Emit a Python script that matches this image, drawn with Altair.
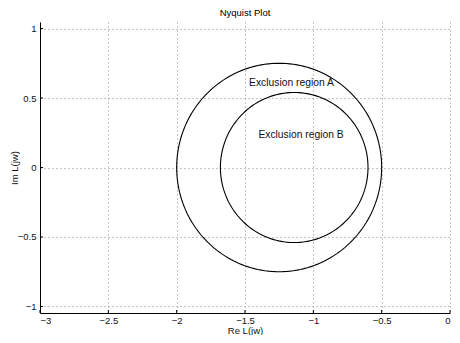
import altair as alt
import pandas as pd

# Circles (exclusion regions): centre and radius
circle_names = ["A", "B"]
circle_cx = [-1.25, -1.14]
circle_cy = [0.0, 0.0]
circle_r = [0.75, 0.54]

# Text labels
label_text = ["Exclusion region A", "Exclusion region B"]
label_x = [-1.16, -1.09]
label_y = [0.607, 0.233]

# Axes
x_ticks = [-3, -2.5, -2, -1.5, -1, -0.5, 0]
y_ticks = [-1, -0.5, 0, 0.5, 1]
x_domain = [-3, 0]
y_domain = [-1.047, 1.047]

circles = pd.DataFrame({"name": circle_names, "cx": circle_cx, "cy": circle_cy, "r": circle_r})
labels = pd.DataFrame({"text": label_text, "x": label_x, "y": label_y})
xt = pd.DataFrame({"v": x_ticks})
yt = pd.DataFrame({"v": y_ticks})

FONT = "Liberation Sans"
W, H = 410, 291

xscale = alt.Scale(domain=x_domain, nice=False, zero=False)
yscale = alt.Scale(domain=y_domain, nice=False, zero=False)

xaxis = alt.Axis(values=x_ticks, format="~g", title="Re L(jw)", grid=True,
                 gridDash=[1, 3], gridColor="#8a8a8a", gridWidth=1,
                 domainColor="black", ticks=False,
                 labelPadding=2, titleY=20.5, titleBaseline="alphabetic")
yaxis = alt.Axis(values=y_ticks, format="~g", title="Im L(jw)", grid=True,
                 gridDash=[1, 3], gridColor="#8a8a8a", gridWidth=1,
                 domainColor="black", ticks=False,
                 labelPadding=4, titleX=-26, titleY=H / 2, titleBaseline="middle",
                 titleAlign="center", titleAngle=270)

circle_layer = alt.Chart(circles).transform_calculate(
    deg="sequence(0, 362, 2)"
).transform_flatten(["deg"]).transform_calculate(
    x="datum.cx + datum.r * cos(datum.deg * PI / 180)",
    y="datum.cy + datum.r * sin(datum.deg * PI / 180)",
).mark_line(color="black", strokeWidth=1.1).encode(
    x=alt.X("x:Q", scale=xscale, axis=xaxis),
    y=alt.Y("y:Q", scale=yscale, axis=yaxis),
    detail="name:N",
    order="deg:Q",
)

# inward tick marks
xtick_layer = alt.Chart(xt).mark_rule(color="black", strokeWidth=1).encode(
    x=alt.X("v:Q", scale=xscale), y=alt.value(H), y2=alt.value(H - 3)
)
ytick_layer = alt.Chart(yt).mark_rule(color="black", strokeWidth=1).encode(
    y=alt.Y("v:Q", scale=yscale), x=alt.value(0), x2=alt.value(3)
)

text_layer = alt.Chart(labels).mark_text(font=FONT, fontSize=10.3, color="#111111").encode(
    x=alt.X("x:Q", scale=xscale),
    y=alt.Y("y:Q", scale=yscale),
    text="text:N",
)

chart = alt.layer(circle_layer, xtick_layer, ytick_layer, text_layer).properties(
    width=W,
    height=H,
    title=alt.TitleParams("Nyquist Plot", font=FONT, fontSize=9.5, fontWeight="normal",
                          color="black", offset=5),
    autosize=alt.AutoSizeParams(type="none"),
    padding={"left": 32, "top": 14, "right": 2, "bottom": 22},
).configure_view(stroke=None).configure_axis(
    labelFont=FONT, titleFont=FONT, labelFontSize=9.5, titleFontSize=9.5,
    titleFontWeight="normal", labelColor="#111111", titleColor="#111111",
)

chart.save("out.html", embed_options={"renderer": "svg", "actions": False})
